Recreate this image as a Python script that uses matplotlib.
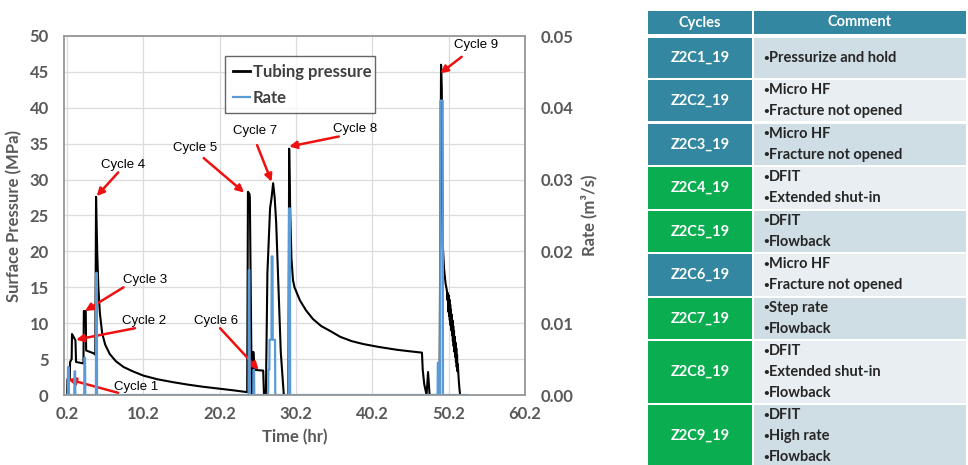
import numpy as np
import matplotlib.pyplot as plt
import matplotlib
from matplotlib.patches import Rectangle

matplotlib.rc('font', family='Lato', weight='bold', size=11)

# tubing pressure (MPa)
time_p = [0.2, 0.25, 0.55, 0.6, 0.8, 0.85, 0.95, 1.3, 1.38, 2.35, 2.4, 2.65, 2.7, 3.7, 3.9,
          4.0, 4.15, 4.3, 4.5, 4.8, 5.2, 5.8, 6.6, 7.6, 8.8, 10.2, 12.0, 14.0, 16.0, 18.0, 20.0, 22.0, 23.8,
          23.9, 24.1, 24.15, 24.4, 24.55, 24.6, 24.75, 25.9, 26.0,
          26.25, 26.45, 26.8, 27.0, 27.2, 27.4, 27.6, 27.9, 28.2, 28.6,
          29.2, 29.3, 29.45, 29.6, 29.8, 30.0, 30.7, 31.5, 32.4, 33.5, 34.7, 36.0, 37.5, 39.0, 41.0, 43.4, 45.0, 46.7,
          46.8, 47.0, 47.3, 47.5, 47.7,
          49.0, 49.2, 49.25, 49.3, 49.35, 49.44, 49.6, 49.8, 49.96, 50.05,
          50.10, 50.15, 50.20, 50.25, 50.30, 50.35, 50.40, 50.45, 50.50, 50.55, 50.60, 50.65, 50.70, 50.75,
          50.80, 50.85, 50.90, 50.95, 51.00, 51.05, 51.10, 51.15, 51.20, 51.25, 51.30, 51.35, 51.40,
          51.50, 51.60, 51.70]
pressure = [0, 2.2, 2.2, 4.6, 5.0, 8.5, 8.3, 7.6, 4.6, 4.4, 11.7, 11.7, 6.2, 5.8, 5.6,
            27.6, 20.0, 15.0, 11.4, 8.6, 7.0, 5.7, 4.7, 3.9, 3.3, 2.7, 2.2, 1.8, 1.45, 1.15, 0.9, 0.65, 0.4,
            28.3, 28.0, 27.5, 0, 0, 6.0, 3.5, 3.4, 0,
            0, 17.0, 26.0, 27.5, 29.5, 27.5, 24.0, 15.0, 6.0, 0,
            0, 34.3, 25.0, 19.0, 16.0, 15.0, 13.2, 11.8, 10.6, 9.6, 8.9, 8.1, 7.5, 7.1, 6.7, 6.3, 6.1, 5.9,
            3.5, 1.5, 0, 3.2, 0,
            0, 46.0, 44.5, 42.5, 33.0, 20.7, 17.5, 15.5, 14.6, 13.2,
            14.2, 11.6, 13.9, 11.0, 13.3, 10.4, 12.6, 9.7, 11.9, 9.0, 11.2, 8.3, 10.4, 7.5,
            9.6, 6.8, 8.9, 6.0, 8.1, 5.3, 7.3, 4.6, 6.5, 3.9, 5.6, 3.3, 4.3,
            2.4, 1.0, 0]

# injection rate (m3/s)
time_q = [0.2, 0.3, 0.33, 0.42, 0.45, 1.15, 1.18, 1.26, 1.29, 2.45, 2.48, 2.56, 2.59, 3.98, 4.01, 4.1, 4.13,
          23.98, 24.01, 24.09, 24.12, 24.6, 24.63, 24.7, 24.73,
          26.55, 26.58, 26.7, 26.73, 26.98, 27.01, 27.12, 27.15, 27.45, 27.48,
          29.28, 29.31, 29.4, 29.43, 48.75, 48.78, 48.85, 48.88, 49.08, 49.11, 49.42, 49.45, 52.7]
rate = [0, 0, 0.0039, 0.0039, 0, 0, 0.0033, 0.0033, 0, 0, 0.0052, 0.0052, 0, 0, 0.017, 0.017, 0,
        0, 0.0174, 0.0174, 0, 0, 0.0035, 0.0035, 0,
        0, 0.0035, 0.0035, 0.0077, 0.0077, 0.0193, 0.0193, 0.0077, 0.0077, 0,
        0, 0.026, 0.026, 0, 0, 0.0045, 0.0045, 0, 0, 0.041, 0.041, 0, 0]

cycle_labels = ['Cycle 1', 'Cycle 2', 'Cycle 3', 'Cycle 4', 'Cycle 5', 'Cycle 6', 'Cycle 7', 'Cycle 8', 'Cycle 9']
cycle_tip = [(0.33, 2.2), (1.38, 7.7), (2.56, 11.7), (4.09, 27.7), (23.4, 28.2),
             (25.3, 3.5), (27.0, 29.7), (29.3, 34.6), (49.1, 44.8)]
cycle_tail = [(6.9, 0.3), (9.1, 9.3), (7.6, 15.0), (6.9, 31.0), (18.1, 33.0),
              (20.25, 9.3), (25.1, 34.8), (35.8, 36.0), (51.9, 47.1)]
cycle_text = [(9.2, 1.1), (10.3, 10.35), (10.4, 16.0), (7.5, 32.1), (17.0, 34.4),
              (19.7, 10.35), (24.8, 36.7), (37.9, 37.1), (53.8, 48.7)]

cycles = ['Z2C1_19', 'Z2C2_19', 'Z2C3_19', 'Z2C4_19', 'Z2C5_19', 'Z2C6_19', 'Z2C7_19', 'Z2C8_19', 'Z2C9_19']
comments = [['Pressurize and hold'],
            ['Micro HF', 'Fracture not opened'],
            ['Micro HF', 'Fracture not opened'],
            ['DFIT', 'Extended shut-in'],
            ['DFIT', 'Flowback'],
            ['Micro HF', 'Fracture not opened'],
            ['Step rate', 'Flowback'],
            ['DFIT', 'Extended shut-in', 'Flowback'],
            ['DFIT', 'High rate', 'Flowback']]
opened = [False, False, False, True, True, False, True, True, True]

W, H = 968, 465
fig = plt.figure(figsize=(W / 100, H / 100), dpi=100)

# table on the right, drawn in pixel coords
tab = fig.add_axes([0, 0, 1, 1])
tab.set_xlim(0, W)
tab.set_ylim(H, 0)
tab.axis('off')
teal = '#3387a0'
green = '#0aad4f'
shades = ['#cfdde4', '#e8eef1']
x0, x1, x2, x3 = 648, 752, 754, 966
tab.add_patch(Rectangle((x0, 11), x1 - x0, 23, color=teal, lw=0))
tab.add_patch(Rectangle((x2, 11), x3 - x2, 23, color=teal, lw=0))
tab.text((x0 + x1) / 2, 22.5, 'Cycles', color='white', ha='center', va='center', fontsize=10.5)
tab.text((x2 + x3) / 2, 22.5, 'Comment', color='white', ha='center', va='center', fontsize=10.5)
pitch = {1: 42, 2: 43.5, 3: 64}
y = 38
for i in range(len(cycles)):
    n = len(comments[i])
    h = pitch[n] - 2
    cy = y + h / 2
    tab.add_patch(Rectangle((x0, y), x1 - x0, h, color=green if opened[i] else teal, lw=0))
    tab.add_patch(Rectangle((x2, y), x3 - x2, h, color=shades[i % 2], lw=0))
    tab.text((x0 + x1) / 2, cy, cycles[i], color='white', ha='center', va='center', fontsize=10.5)
    for j, c in enumerate(comments[i]):
        ly = cy + (j - (n - 1) / 2) * 21
        tab.text(763, ly, '\u2022', color='#262626', ha='left', va='center', fontsize=7)
        tab.text(769, ly, c, color='#262626', ha='left', va='center', fontsize=10.5)
    y += pitch[n]

# chart
ax = fig.add_axes([64 / W, 1 - 395 / H, 461 / W, 359 / H])
ax2 = ax.twinx()
grey = '#595959'
l1, = ax.plot(time_p, pressure, color='black', lw=1.5, label='Tubing pressure')
l2, = ax2.plot(time_q, rate, color='#5b9bd5', lw=1.6, label='Rate')
ax.set_xlim(-0.2, 60.2)
ax.set_ylim(0, 50)
ax2.set_ylim(0, 0.05)
ax.set_xticks(np.arange(0.2, 60.3, 10))
ax.set_xticklabels(['%.1f' % v for v in np.arange(0.2, 60.3, 10)])
ax.set_yticks(range(0, 51, 5))
ax2.set_yticks(np.arange(0, 0.051, 0.01))
ax2.set_yticklabels(['%.2f' % v for v in np.arange(0, 0.051, 0.01)])
ax.grid(True, color='#dcdcdc', lw=0.9)
ax.set_axisbelow(True)
for a in (ax, ax2):
    a.tick_params(length=0, labelsize=12, labelcolor=grey)
    for lab in a.get_xticklabels() + a.get_yticklabels():
        lab.set_fontweight('bold')
    for s in a.spines.values():
        s.set_color('#9a9a9a')
        s.set_linewidth(1.1)
ax.tick_params(axis='y', pad=11)
ax.tick_params(axis='x', pad=8)
ax2.tick_params(axis='y', pad=11)
ax.set_xlabel('Time (hr)', fontsize=12, color=grey, weight='bold', labelpad=5)
ax.set_ylabel('Surface Pressure (MPa)', fontsize=12, color=grey, weight='bold', labelpad=5)
ax2.set_ylabel('Rate (m\u00b3/s)', fontsize=12, color=grey, weight='bold', labelpad=5)

for i in range(len(cycle_labels)):
    ax.annotate('', xy=cycle_tip[i], xytext=cycle_tail[i],
                arrowprops=dict(arrowstyle='-|>', color='#ee1111', lw=1.8, mutation_scale=11,
                                shrinkA=0, shrinkB=0))
    ax.text(cycle_text[i][0], cycle_text[i][1], cycle_labels[i], ha='center', va='center',
            fontsize=9.5, family='Liberation Sans', weight='normal', color='black')

leg = ax2.legend(handles=[l1, l2], loc='upper left', bbox_to_anchor=(0.332, 0.816, 0.36, 0.151),
                 mode='expand', fontsize=12, frameon=True, fancybox=False, handlelength=1.0,
                 handletextpad=0.2, labelspacing=0.6, borderpad=0.45)
leg.get_frame().set_edgecolor('#404040')
leg.get_frame().set_linewidth(1.0)
for t in leg.get_texts():
    t.set_color('#404040')
    t.set_fontweight('bold')
leg.get_lines()[0].set_linewidth(2.0)

plt.savefig('out.png', dpi=100)
